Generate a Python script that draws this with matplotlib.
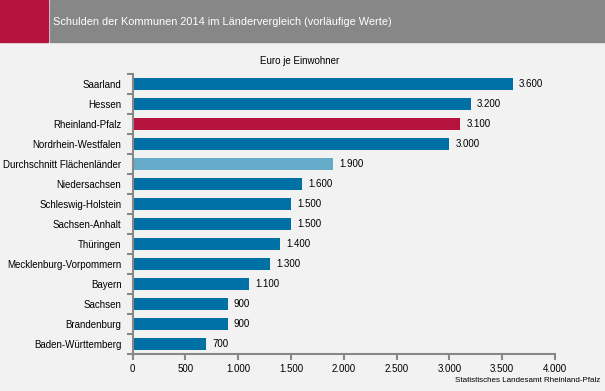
import matplotlib.pyplot as plt
import matplotlib.patches as patches

plt.rcParams['font.family'] = ['Liberation Sans', 'DejaVu Sans']

# Daten
laender = [
    "Saarland", "Hessen", "Rheinland-Pfalz", "Nordrhein-Westfalen",
    "Durchschnitt Flächenländer", "Niedersachsen", "Schleswig-Holstein",
    "Sachsen-Anhalt", "Thüringen", "Mecklenburg-Vorpommern", "Bayern",
    "Sachsen", "Brandenburg", "Baden-Württemberg",
]
werte = [3600, 3200, 3100, 3000, 1900, 1600, 1500, 1500, 1400, 1300, 1100, 900, 900, 700]
x_ticks = [0, 500, 1000, 1500, 2000, 2500, 3000, 3500, 4000]

BLAU = "#0071a4"
ROT = "#b5123e"
HELLBLAU = "#66aac9"
GRAU = "#888888"
BG = "#f2f2f2"


def fmt(v):
    return f"{v:,}".replace(",", ".")


farben = [ROT if l == "Rheinland-Pfalz" else HELLBLAU if l.startswith("Durchschnitt") else BLAU
          for l in laender]

fig = plt.figure(figsize=(6.05, 3.91), dpi=100, facecolor=BG)

# Kopfzeile
fig.patches.append(patches.Rectangle((0, 1 - 42 / 391), 48 / 605, 42 / 391,
                                     transform=fig.transFigure, color=ROT, zorder=0))
fig.patches.append(patches.Rectangle((50 / 605, 1 - 42 / 391), 1 - 50 / 605, 42 / 391,
                                     transform=fig.transFigure, color="#878787", zorder=0))
fig.text(53 / 605, 1 - 22 / 391, "Schulden der Kommunen 2014 im Ländervergleich (vorläufige Werte)",
         color="white", fontsize=7.9, va="center", ha="left")
fig.text(300 / 605, 1 - 61 / 391, "Euro je Einwohner", fontsize=7, ha="center", va="center")

ax = fig.add_axes([132.5 / 605, 1 - 354 / 391, 422.5 / 605, 280 / 391])
ax.set_facecolor(BG)
y = list(range(len(laender)))
ax.barh(y, werte, height=0.6, color=farben)
for yi, v in zip(y, werte):
    ax.text(v + 60, yi, fmt(v), va="center", ha="left", fontsize=7)

ax.set_ylim(len(laender) - 0.5, -0.5)
ax.set_xlim(0, 4000)
ax.set_yticks(y)
ax.set_yticklabels(laender, fontsize=7)
ax.set_yticks([i - 0.5 for i in range(len(laender) + 1)], minor=True)
ax.tick_params(axis="y", which="major", length=0, pad=8)
ax.tick_params(axis="y", which="minor", length=4, color=GRAU, width=1.5)
ax.set_xticks(x_ticks)
ax.set_xticklabels([fmt(t) for t in x_ticks], fontsize=7)
ax.tick_params(axis="x", length=4, color=GRAU, width=1.5, pad=3)

for s in ["top", "right"]:
    ax.spines[s].set_visible(False)
for s in ["left", "bottom"]:
    ax.spines[s].set_color(GRAU)
    ax.spines[s].set_linewidth(1.5)

fig.text(600 / 605, 1 - 381 / 391, "Statistisches Landesamt Rheinland-Pfalz",
         fontsize=5.8, ha="right", va="center")

fig.savefig("out.png", dpi=100, facecolor=BG)
